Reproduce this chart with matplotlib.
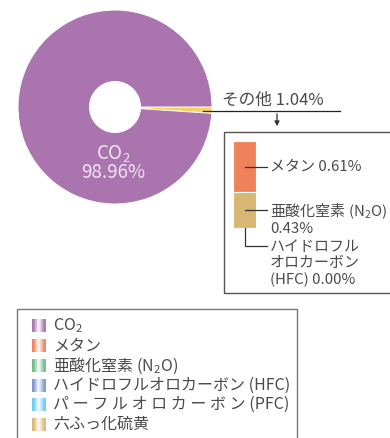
import numpy as np
import matplotlib
matplotlib.use("Agg")
import matplotlib.pyplot as plt
from matplotlib.patches import Rectangle
from matplotlib.colors import to_rgb

plt.rcParams['font.family'] = ['Noto Sans CJK JP', 'DejaVu Sans']
plt.rcParams['mathtext.fontset'] = 'custom'
plt.rcParams['mathtext.rm'] = 'Noto Sans CJK JP'
plt.rcParams['mathtext.it'] = 'Noto Sans CJK JP'

# donut: CO2 vs others (%)
pie_labels = ['その他', 'CO$_2$']
pie_values = [1.04, 98.96]
pie_colors = ['#F6D35C', '#AA74AF']

# breakdown of "others" (%)
other_labels = ['メタン 0.61%', '亜酸化窒素 (N$_2$O)\n0.43%', 'ハイドロフル\nオロカーボン\n(HFC) 0.00%']
other_values = [0.61, 0.43, 0.00]
other_colors = ['#EF825B', '#D6B874', '#7A9BD0']

# legend
legend_labels = ['CO$_2$', 'メタン', '亜酸化窒素 (N$_2$O)', 'ハイドロフルオロカーボン (HFC)',
                 'パ ー フ ル オ ロ カ ー ボ ン (PFC)', '六ふっ化硫黄']
legend_colors = ['#AA74AF', '#EF825B', '#6DBE86', '#7A9BD0', '#6DCBEF', '#D9B877']

W, H = 390, 438
TXT = '#4a4a4a'

fig = plt.figure(figsize=(W / 100, H / 100), dpi=100)
ax = fig.add_axes([0, 0, 1, 1])


def Y(y):
    return H - y


# donut
cx, cy, r = 115, Y(107), 97
ax.pie(pie_values, colors=pie_colors, startangle=0, counterclock=False,
       center=(cx, cy), radius=r, wedgeprops=dict(width=r - 25.5, edgecolor='white', linewidth=0.7),
       frame=True)
ax.text(113, Y(154), pie_labels[1], color='#F1E4F2', fontsize=13.5, ha='center', va='center')
ax.text(113, Y(173), f'{pie_values[1]:.2f}%', color='#F1E4F2', fontsize=13.5, ha='center', va='center')

# callout for "others"
ax.plot([203, 340], [Y(111), Y(111)], color='#222222', lw=0.9)
ax.text(222, Y(100), f'{pie_labels[0]} {pie_values[0]:.2f}%', fontsize=12, color=TXT,
        ha='left', va='center')
ax.annotate('', xy=(277, Y(129)), xytext=(277, Y(111)),
            arrowprops=dict(arrowstyle='-|>', color='#333333', lw=0.9, mutation_scale=7))
ax.add_patch(Rectangle((224, Y(293)), 170, 161, fill=False, edgecolor='#555555', lw=1))

# stacked bar of "others"
scale = 84.0  # px per percent
bx, bw = 244.5, 23
top = Y(141)
bottoms = top - np.cumsum(other_values) * scale
for v, b, c in zip(other_values, bottoms, other_colors):
    ax.bar(bx, v * scale, width=bw, bottom=b, color=c, edgecolor='white', linewidth=0.8)

# leader lines and labels
mid0 = bottoms[0] + other_values[0] * scale / 2
mid1 = bottoms[1] + other_values[1] * scale / 2
ax.plot([bx, 267], [mid0, mid0], color='#333333', lw=0.9)
ax.text(270, mid0, other_labels[0], fontsize=10.8, color=TXT, ha='left', va='center')
ax.plot([bx, 267], [mid1, mid1], color='#333333', lw=0.9)
ax.text(270, mid1 - 8.5, other_labels[1], fontsize=10.8, color=TXT, ha='left', va='center',
        linespacing=1.1)
ax.plot([bx, bx, 267], [bottoms[2], Y(246), Y(246)], color='#333333', lw=0.9)
ax.text(270, Y(263.5), other_labels[2], fontsize=10.8, color=TXT, ha='left', va='center',
        linespacing=1.2)

# legend
ax.add_patch(Rectangle((17, Y(445)), 280, 136, fill=False, edgecolor='#777777', lw=1))
grad = np.array([0.0, 0.15, 0.45, 0.8, 0.9, 0.7, 0.4, 0.15, 0.05])
for i, (lab, col) in enumerate(zip(legend_labels, legend_colors)):
    yc = Y(326 + i * 19.7)
    rgb = np.array(to_rgb(col))
    img = (rgb[None, :] * (1 - grad[:, None]) + grad[:, None])[None, :, :]
    ax.imshow(img, extent=(32, 46, yc - 6.5, yc + 6.5), aspect='auto', zorder=3)
    ax.text(53, yc, lab, fontsize=11.5, color=TXT, ha='left', va='center')

ax.set_xlim(0, W)
ax.set_ylim(0, H)
ax.set_aspect('equal')
ax.axis('off')

fig.savefig('out.png', dpi=100)
